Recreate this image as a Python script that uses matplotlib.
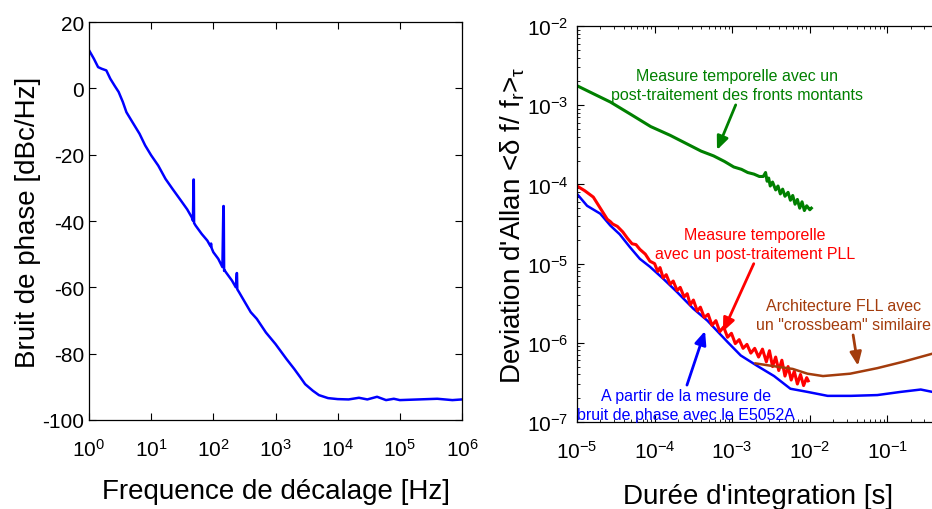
import matplotlib
matplotlib.use('Agg')
import matplotlib.pyplot as plt
import numpy as np

plt.rcParams['font.family'] = ['Liberation Sans', 'DejaVu Sans']
plt.rcParams['mathtext.fontset'] = 'custom'
plt.rcParams['mathtext.rm'] = 'Liberation Sans'
plt.rcParams['mathtext.it'] = 'Liberation Sans'
plt.rcParams['mathtext.default'] = 'regular'

# ---- left plot : phase noise
freq = [1, 1.2, 1.4, 1.6, 1.9, 2.2, 2.6, 3.0, 3.5, 4, 5, 6.5, 8, 10, 13, 17, 22, 30, 38, 45,
        47, 48, 48.5, 49, 52, 65, 80, 90, 92, 94, 100, 120, 140, 145, 147, 149, 151, 160,
        200, 230, 238, 240, 243, 260, 300, 400, 500, 700, 1000, 1500, 2000, 2500, 3000,
        4000, 5000, 7000, 10000, 15000, 22000, 30000, 43000, 60000, 80000, 100000,
        200000, 400000, 700000, 1000000]
noise = [11.5, 8.9, 6.4, 5.9, 5.4, 2.9, 0.7, -1.1, -4.1, -7.2, -10.2, -13.7, -17.2, -20.2,
         -23.3, -27.3, -30.3, -33.8, -36.5, -38.9,
         -39.9, -27.5, -27.5, -40.6, -41.4, -43.9, -45.9, -47.6, -46.8, -48.2, -49.4, -51.4,
         -53.9, -35.5, -35.5, -55.0, -54.8, -55.5,
         -58.0, -60.0, -55.7, -55.7, -60.6, -61.5, -63.5, -67.5, -69.5, -73.6, -77.1, -81.6,
         -84.6, -87.1, -89.2, -91.2, -92.5, -93.4, -93.7, -93.8, -93.3, -93.8, -93.0, -94.0,
         -93.6, -94.0, -93.8, -93.6, -94.0, -93.8]
freq_ticks = [1, 10, 100, 1000, 10000, 100000, 1000000]
freq_labels = ['$10^{0}$', '$10^{1}$', '$10^{2}$', '$10^{3}$', '$10^{4}$', '$10^{5}$', '$10^{6}$']
noise_ticks = [-100, -80, -60, -40, -20, 0, 20]

# ---- right plot : Allan deviation, values as log10 (tau) / log10 (sigma)
green_ltau = [-5.00, -4.80, -4.57, -4.30, -4.05, -3.80, -3.58, -3.40, -3.24, -3.10, -2.98,
              -2.88, -2.80, -2.72, -2.65, -2.60, -2.57, -2.55, -2.53, -2.51, -2.48, -2.44,
              -2.41, -2.38, -2.35, -2.32, -2.28, -2.25, -2.22, -2.19, -2.16, -2.13, -2.10,
              -2.07, -2.04, -2.00, -1.98]
green_lsig = [-2.754, -2.85, -2.96, -3.12, -3.27, -3.38, -3.49, -3.58, -3.64, -3.71, -3.78,
              -3.81, -3.85, -3.87, -3.90, -3.90, -3.85, -3.96, -3.92, -4.02, -3.97, -4.07,
              -4.02, -4.12, -4.06, -4.15, -4.10, -4.20, -4.14, -4.25, -4.19, -4.30, -4.22,
              -4.33, -4.27, -4.32, -4.30]

red_ltau = [-5.00, -4.90, -4.79, -4.70, -4.61, -4.57, -4.54, -4.48, -4.41, -4.35, -4.29,
            -4.24, -4.19, -4.12, -4.06, -4.00, -3.96, -3.93, -3.89, -3.85, -3.80, -3.76,
            -3.71, -3.67, -3.62, -3.58, -3.54, -3.50, -3.45, -3.41, -3.36, -3.31, -3.26,
            -3.21, -3.16, -3.11, -3.06, -3.01, -2.96, -2.91, -2.86, -2.81, -2.76, -2.71,
            -2.66, -2.61, -2.56, -2.52, -2.48, -2.44, -2.40, -2.36, -2.32, -2.28, -2.24,
            -2.20, -2.16, -2.12, -2.08, -2.04, -2.02]
red_lsig = [-4.02, -4.08, -4.16, -4.30, -4.44, -4.47, -4.50, -4.53, -4.60, -4.68, -4.75,
            -4.76, -4.82, -4.88, -4.97, -5.00, -5.10, -5.05, -5.18, -5.14, -5.26, -5.22,
            -5.34, -5.30, -5.42, -5.38, -5.52, -5.46, -5.60, -5.55, -5.68, -5.64, -5.78,
            -5.72, -5.86, -5.80, -5.93, -5.88, -6.01, -5.96, -6.07, -6.02, -6.13, -6.07,
            -6.18, -6.08, -6.24, -6.10, -6.30, -6.18, -6.35, -6.22, -6.42, -6.30, -6.47,
            -6.36, -6.52, -6.40, -6.54, -6.44, -6.48]

blue_ltau = [-5.00, -4.87, -4.70, -4.57, -4.45, -4.32, -4.19, -4.06, -3.89, -3.71, -3.50,
             -3.32, -3.06, -2.89, -2.68, -2.46, -2.25, -2.03, -1.77, -1.47, -1.13, -0.83,
             -0.57, -0.42, -0.20, 0.00]
blue_lsig = [-4.12, -4.27, -4.37, -4.52, -4.63, -4.79, -4.94, -5.04, -5.19, -5.36, -5.57,
             -5.72, -5.99, -6.16, -6.29, -6.42, -6.58, -6.62, -6.67, -6.67, -6.66, -6.62,
             -6.59, -6.62, -6.62, -6.60]

brown_ltau = [-2.70, -2.50, -2.22, -2.03, -1.83, -1.48, -1.13, -0.80, -0.43, 0.00]
brown_lsig = [-6.26, -6.29, -6.33, -6.39, -6.42, -6.39, -6.32, -6.24, -6.14, -6.03]

tau_ticks = [1e-5, 1e-4, 1e-3, 1e-2, 1e-1]
tau_labels = ['$10^{-5}$', '$10^{-4}$', '$10^{-3}$', '$10^{-2}$', '$10^{-1}$']
sig_ticks = [1e-7, 1e-6, 1e-5, 1e-4, 1e-3, 1e-2]
sig_labels = ['$10^{-7}$', '$10^{-6}$', '$10^{-5}$', '$10^{-4}$', '$10^{-3}$', '$10^{-2}$']

GREEN = '#008000'
BROWN = '#a33c0c'

fig = plt.figure(figsize=(9.32, 5.10), dpi=100)


def matlab_box(ax):
    for s in ax.spines.values():
        s.set_linewidth(0.9)
    ax.tick_params(which='both', direction='in', top=True, right=True, labelsize=15)
    ax.tick_params(which='major', length=5, width=0.8)
    ax.tick_params(which='minor', length=2.5, width=0.6)


# left
ax1 = fig.add_axes([89/932, 89/510, 373/932, 398/510])
ax1.semilogx(freq, noise, color='#0000ff', lw=1.8)
ax1.set_xlim(1, 1e6)
ax1.set_ylim(-100, 20)
ax1.set_xticks(freq_ticks)
ax1.set_xticklabels(freq_labels)
ax1.set_yticks(noise_ticks)
ax1.set_yticklabels([str(v) for v in noise_ticks])
matlab_box(ax1)
ax1.tick_params(axis='x', which='major', pad=13)
ax1.set_xlabel('Frequence de décalage [Hz]', fontsize=20, labelpad=13)
ax1.set_ylabel('Bruit de phase [dBc/Hz]', fontsize=20, labelpad=1)

# right (box runs past the right edge of the picture)
ax2 = fig.add_axes([577/932, 87/510, 388/932, 396/510])
ax2.loglog(10.0**np.array(blue_ltau), 10.0**np.array(blue_lsig), color='#0000ff', lw=1.8)
ax2.loglog(10.0**np.array(red_ltau), 10.0**np.array(red_lsig), color='#ff0000', lw=2.2)
ax2.loglog(10.0**np.array(green_ltau), 10.0**np.array(green_lsig), color=GREEN, lw=2.2)
ax2.loglog(10.0**np.array(brown_ltau), 10.0**np.array(brown_lsig), color=BROWN, lw=1.8)
ax2.set_xlim(1e-5, 1e0)
ax2.set_ylim(1e-7, 1e-2)
ax2.set_xticks(tau_ticks)
ax2.set_xticklabels(tau_labels)
ax2.set_yticks(sig_ticks)
ax2.set_yticklabels(sig_labels)
matlab_box(ax2)
ax2.tick_params(axis='x', which='major', pad=13)
ax2.tick_params(axis='y', which='major', pad=6)
ax2.set_xlabel("Durée d'integration [s]", fontsize=20)
ax2.xaxis.set_label_coords(0.466, -0.155)
ax2.set_ylabel("Deviation d'Allan <δ f/ f$_{r}$>$_{τ}$", fontsize=20, labelpad=0)

arrow = dict(arrowstyle='-|>,head_length=0.7,head_width=0.3', lw=2, shrinkA=0, shrinkB=0)
ax2.annotate('Measure temporelle avec un\npost-traitement des fronts montants',
             xy=(10**-3.196, 10**-3.566), xytext=(10**-2.94, 10**-2.745),
             ha='center', va='center', color=GREEN, fontsize=11.5, linespacing=1.35,
             arrowprops=dict(arrow, color=GREEN, relpos=(0.5, 0.0)))
ax2.annotate('Measure temporelle\navec un post-traitement PLL',
             xy=(10**-3.12, 10**-5.86), xytext=(10**-2.706, 10**-4.75),
             ha='center', va='center', color='#ff0000', fontsize=11.5, linespacing=1.35,
             arrowprops=dict(arrow, color='#ff0000', relpos=(0.5, 0.0)))
ax2.annotate('Architecture FLL avec\nun "crossbeam" similaire',
             xy=(10**-1.379, 10**-6.29), xytext=(10**-1.56, 10**-5.65),
             ha='center', va='center', color=BROWN, fontsize=11.5, linespacing=1.35,
             arrowprops=dict(arrow, color=BROWN, relpos=(0.55, 0.0)), annotation_clip=False)
ax2.annotate('A partir de la mesure de\nbruit de phase avec le E5052A',
             xy=(10**-3.35, 10**-5.85), xytext=(10**-3.595, 10**-6.785),
             ha='center', va='center', color='#0000ff', fontsize=11.5, linespacing=1.35,
             arrowprops=dict(arrow, color='#0000ff', relpos=(0.5, 1.0)))

fig.savefig('out.png', dpi=100)
